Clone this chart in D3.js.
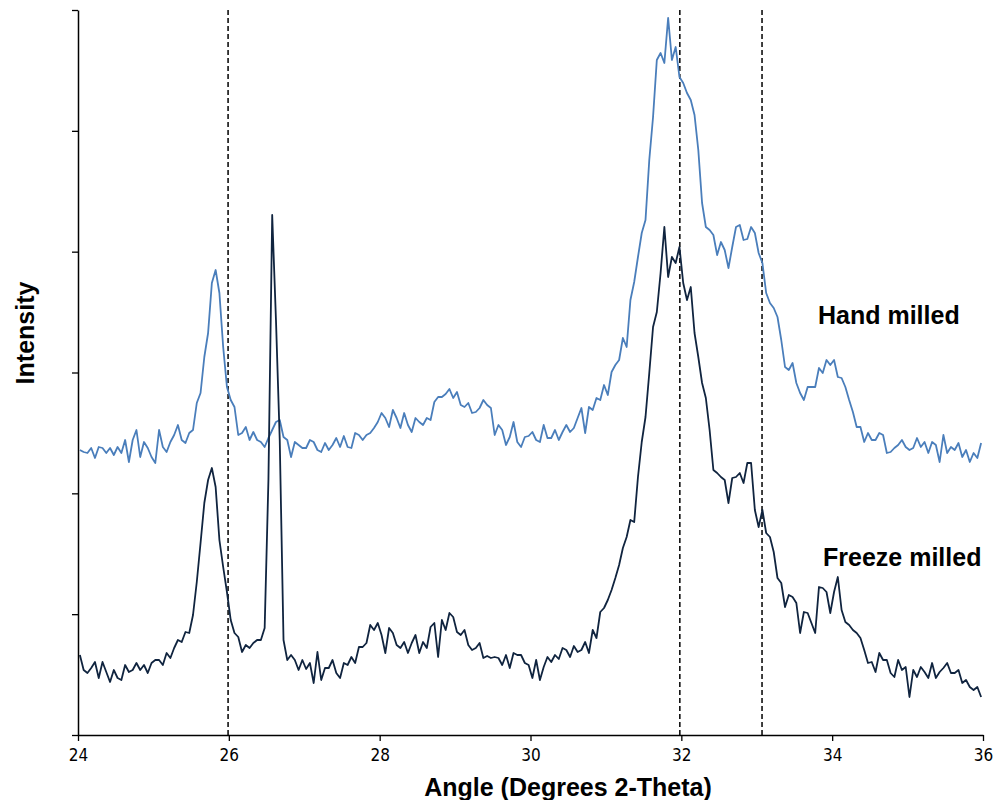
<!DOCTYPE html>
<html>
<head>
<meta charset="utf-8">
<script src="https://cdn.jsdelivr.net/npm/d3@7"></script>
<style>
  body { margin: 0; background: #fff; }
  svg { display: block; }
  .tick text { font-family: 'Liberation Sans Narrow', 'DejaVu Sans Condensed', sans-serif; font-size: 17px; fill: #000; }
  .title { font-family: 'Liberation Sans', Arial, sans-serif; font-weight: bold; font-size: 25px; fill: #000; }
</style>
</head>
<body>
<div id="vis"></div>
<script>
const FRAME_WIDTH = 1003;
const FRAME_HEIGHT = 800;
const MARGINS = { left: 78, right: 20, top: 10, bottom: 65 };

// 2-theta grid of the scans (degrees)
const ANGLE_START = 24.025;
const ANGLE_STEP = 0.05;

// intensities (arbitrary counts)
const HAND_MILLED = [
  285, 283, 282, 287, 277, 288, 287, 282, 287, 280, 288, 282, 295, 273, 295, 305, 278, 293, 287, 278,
  272, 305, 288, 283, 293, 300, 310, 295, 292, 302, 305, 332, 342, 378, 402, 452, 465, 442, 388, 348,
  335, 328, 300, 302, 308, 295, 303, 295, 293, 288, 297, 305, 313, 315, 298, 295, 278, 293, 290, 287,
  287, 295, 293, 285, 283, 292, 285, 290, 297, 288, 299, 288, 287, 302, 300, 295, 300, 302, 307, 313,
  322, 317, 308, 325, 317, 307, 322, 310, 303, 317, 313, 310, 317, 315, 333, 338, 338, 341, 346, 337,
  343, 330, 328, 332, 322, 323, 327, 335, 330, 327, 300, 310, 305, 290, 298, 313, 293, 288, 298, 299,
  303, 295, 293, 310, 297, 297, 305, 295, 303, 310, 303, 307, 317, 327, 302, 328, 325, 337, 335, 350,
  340, 363, 370, 375, 397, 388, 435, 453, 478, 502, 515, 575, 618, 675, 682, 672, 717, 675, 688, 658,
  652, 642, 635, 620, 585, 532, 508, 505, 500, 480, 493, 485, 467, 488, 508, 510, 495, 496, 508, 502,
  482, 472, 442, 432, 427, 418, 395, 368, 365, 372, 352, 342, 335, 348, 348, 348, 367, 362, 375, 370,
  375, 358, 357, 348, 335, 323, 308, 308, 293, 302, 295, 295, 302, 300, 282, 283, 287, 290, 295, 288,
  285, 287, 297, 288, 293, 282, 293, 290, 273, 300, 282, 288, 285, 292, 278, 285, 273, 282, 277, 292
];

const FREEZE_MILLED = [
  80, 65, 62, 67, 73, 57, 73, 63, 53, 65, 57, 55, 70, 63, 65, 72, 65, 70, 62, 72,
  75, 75, 70, 82, 77, 87, 95, 93, 103, 102, 120, 153, 192, 232, 255, 267, 248, 195, 168, 143,
  115, 102, 98, 83, 90, 87, 92, 95, 95, 107, 255, 520, 415, 295, 95, 75, 80, 75, 65, 75,
  66, 72, 52, 83, 55, 67, 67, 75, 62, 57, 72, 70, 78, 72, 88, 88, 92, 110, 105, 112,
  100, 82, 107, 102, 90, 87, 93, 82, 92, 100, 82, 93, 87, 108, 112, 78, 115, 105, 122, 118,
  103, 100, 105, 90, 85, 87, 92, 77, 79, 77, 78, 77, 70, 80, 67, 82, 80, 80, 72, 70,
  57, 75, 55, 68, 78, 73, 80, 76, 87, 85, 78, 89, 83, 85, 93, 82, 105, 97, 123, 127,
  135, 145, 157, 170, 187, 198, 215, 213, 258, 293, 318, 362, 408, 423, 462, 508, 458, 478, 472, 488,
  452, 435, 448, 402, 378, 352, 337, 305, 265, 262, 258, 255, 232, 257, 258, 262, 252, 272, 272, 225,
  208, 225, 202, 198, 183, 157, 152, 128, 140, 138, 132, 102, 123, 122, 112, 102, 148, 147, 143, 122,
  143, 158, 125, 113, 110, 105, 102, 97, 85, 72, 73, 63, 82, 75, 75, 62, 58, 75, 65, 68,
  38, 65, 58, 68, 63, 57, 72, 57, 63, 67, 72, 62, 62, 65, 52, 55, 48, 45, 48, 38
];

const SERIES_NAMES = ['Hand milled', 'Freeze milled'];
const SERIES_COLORS = ['#4a7ebb', '#10243f'];
const LABEL_POS = [[818, 324], [823, 566]];

const X_TICKS = [24, 26, 28, 30, 32, 34, 36];
const DASHED_ANGLES = [25.99, 31.98, 33.07];
const Y_MAX = 725;
const Y_TICK_COUNT = 6;

function buildChart() {
  const VIS_HEIGHT = FRAME_HEIGHT - MARGINS.top - MARGINS.bottom;

  const angles = HAND_MILLED.map((d, i) => ANGLE_START + i * ANGLE_STEP);

  const FRAME = d3.select('#vis')
    .append('svg')
    .attr('width', FRAME_WIDTH)
    .attr('height', FRAME_HEIGHT);

  const X_SCALE = d3.scaleLinear()
    .domain([24, 36])
    .range([MARGINS.left, MARGINS.left + 905]);

  const Y_SCALE = d3.scaleLinear()
    .domain([0, Y_MAX])
    .range([MARGINS.top + VIS_HEIGHT, MARGINS.top]);

  // dashed reference lines
  FRAME.selectAll('.ref')
    .data(DASHED_ANGLES)
    .enter()
    .append('line')
    .attr('class', 'ref')
    .attr('x1', (d) => X_SCALE(d))
    .attr('x2', (d) => X_SCALE(d))
    .attr('y1', Y_SCALE(Y_MAX))
    .attr('y2', Y_SCALE(0))
    .attr('stroke', '#111')
    .attr('stroke-width', 1.6)
    .attr('stroke-dasharray', '5,3');

  const line = d3.line()
    .x((d) => X_SCALE(d[0]))
    .y((d) => Y_SCALE(d[1]));

  [HAND_MILLED, FREEZE_MILLED].forEach((values, s) => {
    FRAME.append('path')
      .datum(values.map((v, i) => [angles[i], v]))
      .attr('fill', 'none')
      .attr('stroke', SERIES_COLORS[s])
      .attr('stroke-width', 1.8)
      .attr('stroke-linejoin', 'round')
      .attr('d', line);

    FRAME.append('text')
      .attr('class', 'title')
      .attr('x', LABEL_POS[s][0])
      .attr('y', LABEL_POS[s][1])
      .text(SERIES_NAMES[s]);
  });

  // axes
  const xAxis = FRAME.append('g')
    .attr('transform', 'translate(0,' + Y_SCALE(0) + ')')
    .call(d3.axisBottom(X_SCALE).tickValues(X_TICKS).tickSize(6).tickSizeOuter(0).tickPadding(8));

  const yAxis = FRAME.append('g')
    .attr('transform', 'translate(' + X_SCALE(24) + ',0)')
    .call(d3.axisLeft(Y_SCALE)
      .tickValues(d3.range(Y_TICK_COUNT + 1).map((i) => (i * Y_MAX) / Y_TICK_COUNT))
      .tickSize(6).tickSizeOuter(0).tickFormat(''));

  [xAxis, yAxis].forEach((g) => {
    g.select('.domain').attr('stroke', '#000').attr('stroke-width', 1.5);
    g.selectAll('.tick line').attr('stroke', '#000').attr('stroke-width', 1.3);
  });

  FRAME.append('text')
    .attr('class', 'title')
    .attr('x', 568)
    .attr('y', 796)
    .attr('text-anchor', 'middle')
    .text('Angle (Degrees 2-Theta)');

  FRAME.append('text')
    .attr('class', 'title')
    .attr('transform', 'translate(34,333) rotate(-90)')
    .attr('text-anchor', 'middle')
    .text('Intensity');
}

buildChart();
</script>
</body>
</html>
